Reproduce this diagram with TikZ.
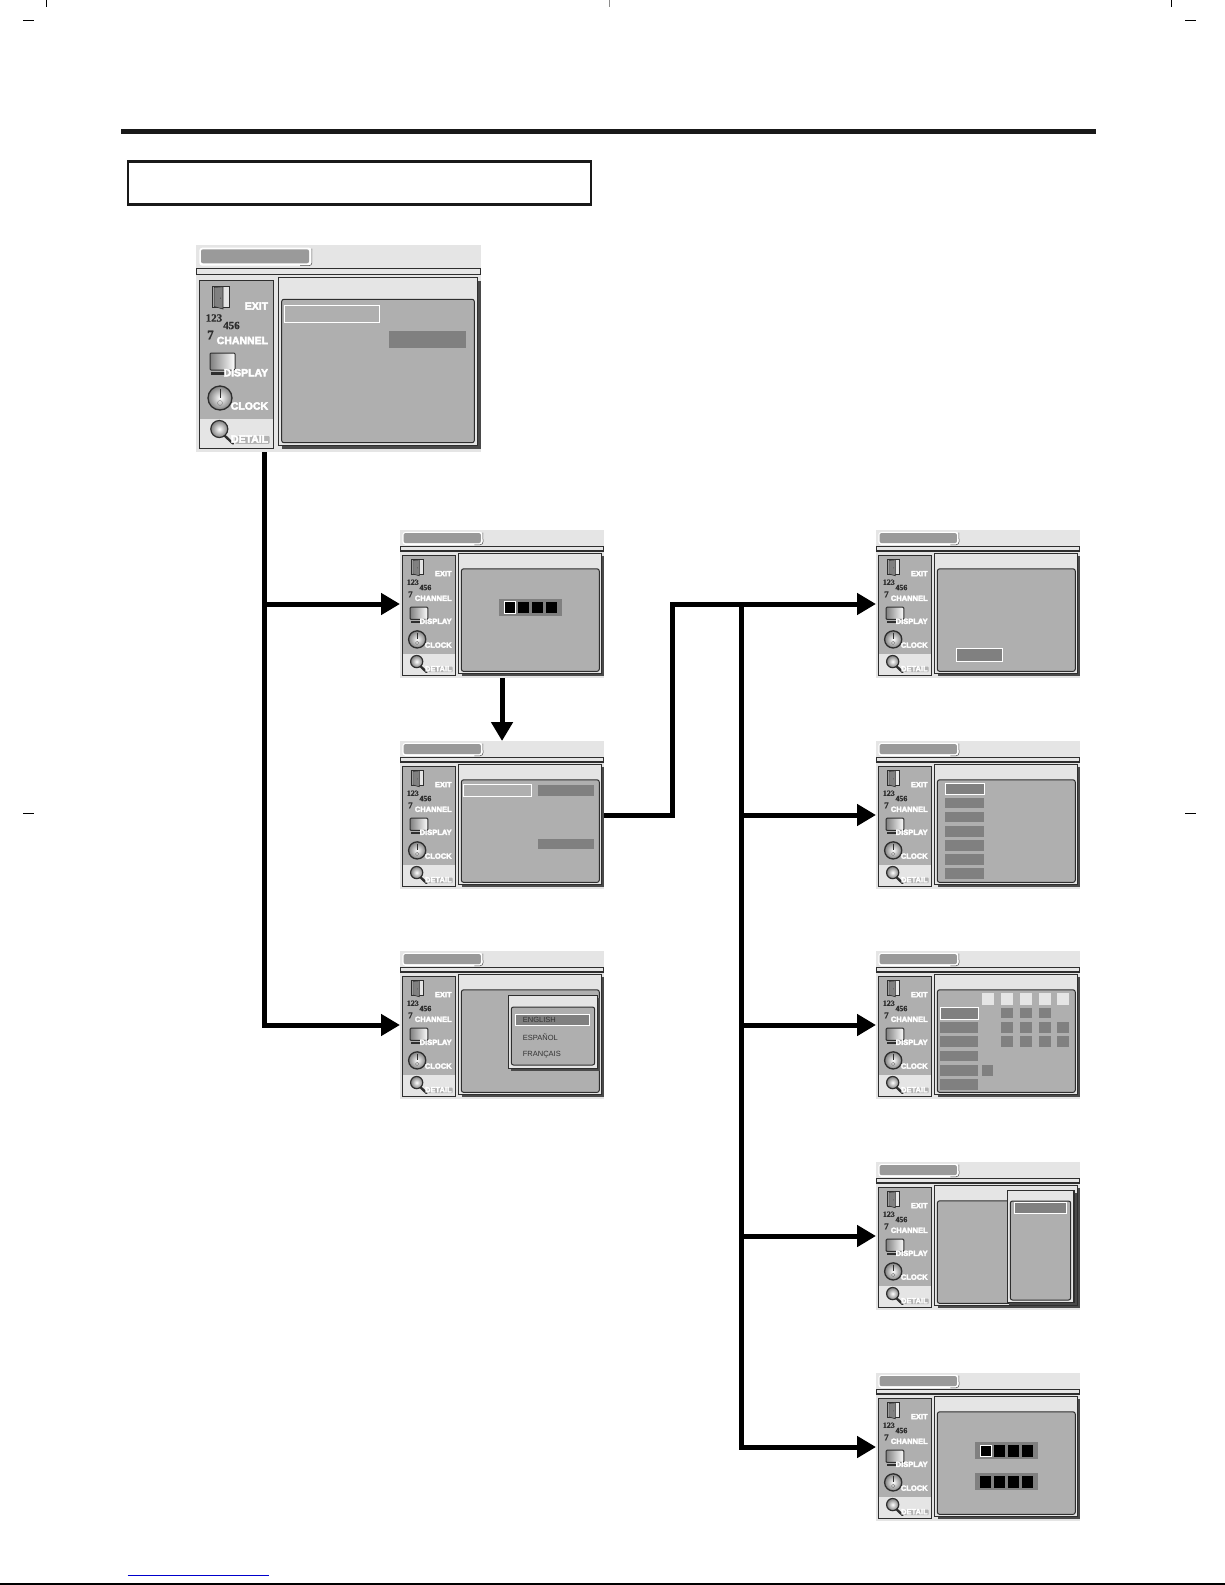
\documentclass[tikz,border=0pt]{standalone}
\usepackage{fontspec}
\setmainfont{Liberation Sans}
\newfontfamily\osdlabel[FakeBold=4]{Liberation Sans Bold}
\newfontfamily\osdnum[FakeBold=1]{Liberation Serif Bold}
\usetikzlibrary{arrows.meta,calc}
\definecolor{osdlight}{HTML}{E5E5E5}
\definecolor{osdpanel}{HTML}{AFAFAF}
\definecolor{osddark}{HTML}{808080}
\definecolor{osdtitle}{HTML}{9A9A9A}
\definecolor{osdline}{HTML}{2E2E2E}
\definecolor{osdshadow}{HTML}{4A4A4A}
\definecolor{linkblue}{HTML}{0000CC}
\tikzset{
  conn/.style={line width=5pt,draw=black,line join=miter},
  tip/.style={-{Triangle[length=19pt,width=21pt]}},
  thin frame/.style={draw=osdline,line width=1.1pt},
  inner panel/.style={draw=osdline,line width=1pt,fill=osdpanel,rounded corners=2.2pt},
  chip on/.style={fill=osddark,draw=white,line width=1pt},
  crop/.style={draw=black,line width=1pt},
  osd text/.style={anchor=east,inner sep=0pt,text=white,font=\osdlabel\fontsize{10.5}{10.5}\selectfont},
  num text/.style={anchor=west,inner sep=0pt,text=osdline,font=\osdnum\fontsize{11}{11}\selectfont},
  menu text/.style={anchor=west,inner sep=0pt,text=black!80,font=\fontsize{7.5}{8}\selectfont},
}
% #1 name, #2 x, #3 y, #4 xscale, #5 yscale
\newcommand{\osdscreen}[5]{%
  \pgfmathsetmacro{\osdw}{285*#4}\pgfmathsetmacro{\osdh}{207*#5}%
  \node[anchor=north west,inner sep=0pt,outer sep=0pt,fill=osdlight,minimum width=\osdw pt,minimum height=\osdh pt] (#1) at (#2,#3) {};
  \begin{scope}[shift={(#2,#3)},xscale=#4,yscale=#5,transform shape]
    % title pill
    \fill[white,rounded corners=3pt] (3.3,2.7) rectangle (116,20.7);
    \draw[osdshadow,line width=.5pt,rounded corners=3pt] (115.8,3.5) -- (116,20.7) -- (104,20.7);
    \fill[osdtitle,rounded corners=2pt] (5,4.3) rectangle (113,18.3);
    % bar
    \draw[thin frame,fill=osdlight] (0.5,23.3) rectangle (284.5,29.3);
    % left panel
    \fill[osdpanel] (3.3,35.3) rectangle (77.7,174);
    \fill[osdlight] (3.3,174) rectangle (77.7,203.3);
    \draw[thin frame] (3.3,35.3) rectangle (77.7,203.3);
    % right panel
    \fill[osdshadow] (86,36) rectangle (284.5,204);
    \draw[thin frame,fill=osdlight] (82.3,32.3) rectangle (281.3,200.7);
    \draw[inner panel] (85.7,54.3) rectangle (278.3,197.7);
    % door
    \fill[osdlight] (16.3,41.7) rectangle (33.3,62);
    \draw[osdline,line width=1pt] (16.3,41.7) rectangle (33.3,62);
    \fill[osddark,draw=osdline,line width=.6pt] (18,42.5) -- (27,41.7) -- (27,64) -- (18,61.5) -- cycle;
    \fill[osdline] (24.5,53) circle (.5);
    \node[osd text] (#1exit) at (72.3,61) {EXIT};
    % digits
    \node[num text] (#1na) at (9.5,73) {123};
    \node[num text] (#1nb) at (27,80.5) {456};
    \node[num text,font=\osdnum\fontsize{13}{13}\selectfont] (#1nc) at (11,90) {7};
    \node[osd text] (#1chan) at (72.3,95.5) {CHANNEL};
    % monitor
    \shade[left color=osddark,right color=white,draw=osdline,line width=1pt,rounded corners=1pt] (14,108) rectangle (39,125);
    \fill[osdline] (15,127) rectangle (30,130);
    \node[osd text] (#1disp) at (72.3,127.7) {DISPLAY};
    % clock
    \shade[inner color=white,outer color=osddark,draw=osdline,line width=1.3pt] (24,153) circle (12);
    \draw[osdline,line width=.8pt] (24,143.5) -- (24,153);
    \draw[osddark,line width=.4pt] (24,158) circle (2.5);
    \node[osd text] (#1clk) at (72.3,161) {CLOCK};
    % magnifier
    \draw[osdline,line width=2.4pt,line cap=round] (29,191) -- (37,198.5);
    \shade[inner color=white,outer color=osddark,draw=osdline,line width=1.2pt] (23.3,184) circle (8.5);
    \fill[black!30,rounded corners=1pt] (39,191) rectangle (73.6,198.8);
    \node[osd text] (#1det) at (72.3,194) {DETAIL};
  \end{scope}
}
% PIN bar: #1 x, #2 y
\newcommand{\pinbar}[2]{%
  \fill[osddark] (#1,#2) rectangle ++(63,17);
  \foreach \dx in {5.3,19.3,33,47} \fill[black] ($(#1,#2)+(\dx,3)$) rectangle ++(11,11.5);
}
\begin{document}
\begin{tikzpicture}[x=1pt,y=-1pt]
\useasboundingbox (0,0) rectangle (1225,1585);
\fill[white] (0,0) rectangle (1225,1585);

% crop marks and rules
\draw[crop] (46.5,0) -- (46.5,7);
\draw[crop,draw=black!45] (609,0) -- (609,7);
\draw[crop] (1171.5,0) -- (1171.5,7);
\draw[crop] (23,20.5) -- (34,20.5);
\draw[crop] (1185,20.5) -- (1196,20.5);
\draw[crop] (23,813.5) -- (34,813.5);
\draw[crop] (1185,813.5) -- (1196,813.5);
\fill[black!90] (121,129) rectangle (1096,133.5);
\draw[black!90,line width=2.6pt] (128,161.3) rectangle (591,204.7);
\draw[linkblue,line width=1pt] (127.5,1575) -- (268.5,1575);
\draw[black,line width=1.3pt] (0,1584) -- (1225,1584);

% screens
\osdscreen{main}{196}{245}{1}{1}
\osdscreen{pinA}{400}{530}{.716}{.715}
\osdscreen{setup}{400}{741}{.716}{.715}
\osdscreen{lang}{400}{951}{.716}{.715}
\osdscreen{rA}{876}{530}{.716}{.715}
\osdscreen{rB}{876}{741}{.716}{.715}
\osdscreen{rC}{876}{951}{.716}{.715}
\osdscreen{rD}{876}{1162}{.716}{.715}
\osdscreen{rE}{876}{1373}{.716}{.715}

% main contents
\draw[white,line width=1pt] (284.5,305.5) rectangle (379.5,322.5);
\fill[osddark] (389,331) rectangle (466,348);

% pin A
\pinbar{499}{598.5}

% setup
\draw[white,line width=1pt] (463.3,784.3) rectangle (531.7,796.7);
\fill[osddark] (538,785) rectangle (594,796);
\fill[osddark] (538,839) rectangle (594,849);

% language popup
\fill[osdshadow] (511,998) rectangle (599.5,1071);
\draw[thin frame,fill=osdlight] (508.7,995.3) rectangle (597.3,1068.7);
\draw[inner panel] (511.3,1007) rectangle (594.7,1065);
\draw[chip on] (515.7,1014.3) rectangle (589.7,1025.3);
\node[menu text] (eng) at (522.7,1019.9) {ENGLISH};
\node[menu text] (esp) at (522.7,1037) {ESPAÑOL};
\node[menu text] (fra) at (522.7,1054.3) {FRANÇAIS};

% right 1
\draw[chip on] (956.3,648.7) rectangle (1002.7,661.7);

% right 2 list
\draw[chip on] (945,783.5) rectangle (984,794);
\foreach \ry in {797.7,811.8,826,840.1,854.3,868.4} \fill[osddark] (945,\ry) rectangle (984,\ry+10.5);

% right 3 grid
\draw[chip on] (940.3,1007.3) rectangle (978.3,1019);
\fill[osddark] (940,1022) rectangle (978.3,1033);
\fill[osddark] (940,1036) rectangle (978.3,1047);
\fill[osddark] (940,1051) rectangle (978.3,1061.3);
\fill[osddark] (940,1065) rectangle (978.3,1076);
\fill[osddark] (940,1079) rectangle (978.3,1090);
\foreach \gx in {982,1001,1020,1039,1057} \fill[osdlight] (\gx,993) rectangle ++(11.5,12);
\foreach \gx in {1001,1020,1039} \fill[osddark] (\gx,1008) rectangle ++(11.5,10);
\foreach \gx in {1001,1020,1039,1057} {
  \fill[osddark] (\gx,1022) rectangle ++(11.5,11);
  \fill[osddark] (\gx,1036) rectangle ++(11.5,11);
}
\fill[osddark] (982,1065) rectangle ++(11,11);

% right 4 popup
\fill[osdshadow] (1009,1193) rectangle (1076.5,1305);
\draw[thin frame,fill=osdlight] (1007.3,1190.3) rectangle (1074,1302.7);
\draw[inner panel] (1010.3,1201) rectangle (1070.7,1300);
\draw[chip on] (1014,1202.3) rectangle (1066,1213.3);

% right 5
\pinbar{975}{1442}
\pinbar{975}{1473}
\draw[white,line width=1pt] (980.3,1445) rectangle (991.3,1456.5);
\draw[white,line width=1pt] (504.3,601.5) rectangle (515.3,613);

% connectors
\coordinate (t0) at (264,452);
\coordinate (j1) at (672,814);
\coordinate (j2) at (741,604);
\draw[conn,tip] (t0) |- (lang.west);
\draw[conn,tip] (t0 |- pinA.west) -- (pinA.west);
\draw[conn,tip] (pinA.south) -- (setup.north);
\draw[conn,tip] (setup.east) -- (j1 |- setup.east) -- (j1 |- rA.west) -- (rA.west);
\draw[conn,tip] (j2 |- rA.west) -- (j2 |- rE.west) -- (rE.west);
\draw[conn,tip] (j2 |- rB.west) -- (rB.west);
\draw[conn,tip] (j2 |- rC.west) -- (rC.west);
\draw[conn,tip] (j2 |- rD.west) -- (rD.west);
\end{tikzpicture}
\end{document}
